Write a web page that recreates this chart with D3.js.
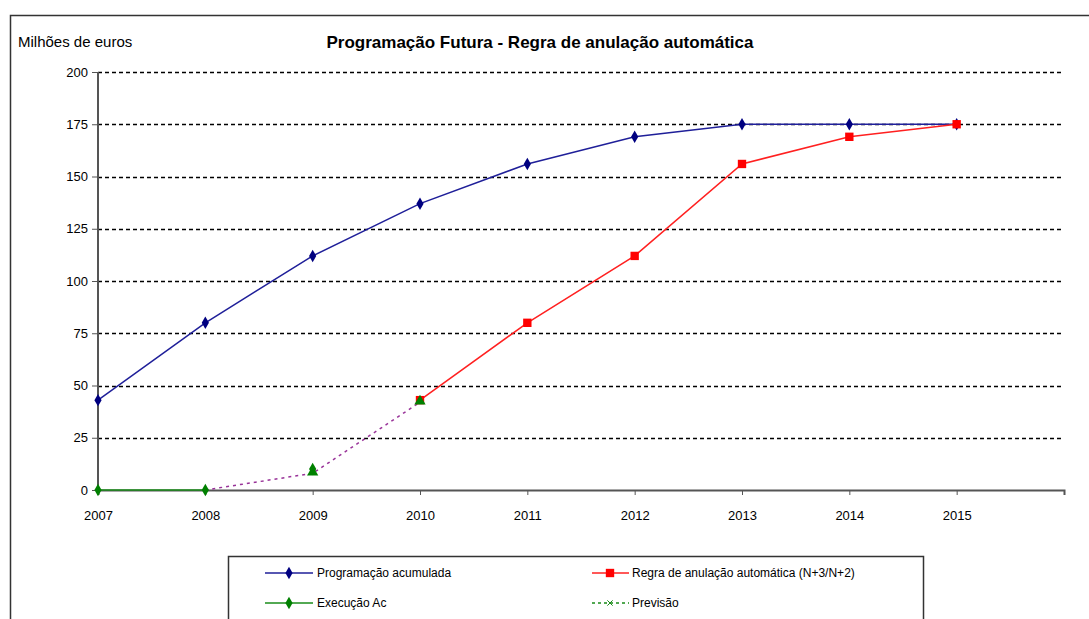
<!DOCTYPE html>
<html>
<head>
<meta charset="utf-8">
<script src="https://cdn.jsdelivr.net/npm/d3@7"></script>
<style>
  body { margin: 0; background: #fff; }
  svg { display: block; font-family: "Liberation Sans Narrow", "Arial Narrow", "Liberation Sans", sans-serif; }
  .tick text { font-size: 13px; fill: #000; }
</style>
</head>
<body>
<script>
//chart data
var years = [2007, 2008, 2009, 2010, 2011, 2012, 2013, 2014, 2015];
var programacao = [43, 80, 112, 137, 156, 169, 175, 175, 175];
var regraYears = [2010, 2011, 2012, 2013, 2014, 2015];
var regra = [43, 80, 112, 156, 169, 175];
var execYears = [2007, 2008];
var execucao = [0, 0];
var previsaoYears = [2008, 2009, 2010];
var previsao = [0, 8, 42];
var execMarkYears = [2009];
var execMark = [10];
var yTicks = [0, 25, 50, 75, 100, 125, 150, 175, 200];

var w = 1089, h = 619;

var svg = d3.select("body").append("svg")
  .attr("width", w)
  .attr("height", h);

//outer frame
svg.append("rect")
  .attr("x", 10.5).attr("y", 15.5)
  .attr("width", w + 20).attr("height", h)
  .style("fill", "none").style("stroke", "#333").style("stroke-width", 1.5);

var x = d3.scaleLinear().domain([2007, 2016]).range([98, 1064]);
var y = d3.scaleLinear().domain([0, 200]).range([490, 72]);

//gridlines
svg.selectAll(".grid")
  .data(yTicks.filter(function(d){ return d > 0; }))
  .enter().append("line")
  .attr("x1", x(2007)).attr("x2", 1062)
  .attr("y1", function(d){ return Math.round(y(d)) + 0.5; })
  .attr("y2", function(d){ return Math.round(y(d)) + 0.5; })
  .style("stroke", "#000").style("stroke-width", 1.3)
  .style("stroke-dasharray", "4,3");

//axes
var yAxis = svg.append("g")
  .attr("transform", "translate(" + x(2007) + ",0)")
  .call(d3.axisLeft(y).tickValues(yTicks).tickSize(6).tickPadding(4));
var xAxis = svg.append("g")
  .attr("transform", "translate(0," + y(0) + ")")
  .call(d3.axisBottom(x).tickValues(d3.range(2007, 2017)).tickSize(5).tickPadding(16)
    .tickFormat(function(d){ return d <= 2015 ? d : ""; }));
svg.selectAll(".domain").style("stroke", "#555").style("stroke-width", 2);
svg.selectAll(".tick line").style("stroke", "#555");
yAxis.selectAll(".domain").attr("d", "M0," + y(200) + "V" + y(0));

var line = d3.line()
  .x(function(d){ return x(d[0]); })
  .y(function(d){ return y(d[1]); });

function pairs(xs, ys){ return xs.map(function(v, i){ return [v, ys[i]]; }); }

var diamond = d3.symbol().type(d3.symbolDiamond).size(45);
var square = d3.symbol().type(d3.symbolSquare).size(70);
var triangle = d3.symbol().type(d3.symbolTriangle).size(55);

//previsao dashed line
svg.append("path")
  .datum(pairs(previsaoYears, previsao))
  .attr("d", line)
  .style("fill", "none").style("stroke", "#993399").style("stroke-width", 1.5)
  .style("stroke-dasharray", "3,4");

//execucao line
svg.append("path")
  .datum(pairs(execYears, execucao))
  .attr("d", line)
  .style("fill", "none").style("stroke", "#1a8c1a").style("stroke-width", 1.5);

//programacao line
svg.append("path")
  .datum(pairs(years, programacao))
  .attr("d", line)
  .style("fill", "none").style("stroke", "#1f1f99").style("stroke-width", 1.5);

//regra line
svg.append("path")
  .datum(pairs(regraYears, regra))
  .attr("d", line)
  .style("fill", "none").style("stroke", "#ff2020").style("stroke-width", 1.5);

//markers
svg.selectAll(".progMark")
  .data(pairs(years, programacao)).enter().append("path")
  .attr("transform", function(d){ return "translate(" + x(d[0]) + "," + y(d[1]) + ")"; })
  .attr("d", diamond).style("fill", "#000080");

svg.selectAll(".regraMark")
  .data(pairs(regraYears, regra)).enter().append("path")
  .attr("transform", function(d){ return "translate(" + x(d[0]) + "," + y(d[1]) + ")"; })
  .attr("d", square).style("fill", "#ff0000");

svg.selectAll(".prevMark")
  .data(pairs(previsaoYears, previsao).slice(1)).enter().append("path")
  .attr("transform", function(d){ return "translate(" + x(d[0]) + "," + (y(d[1]) - 1) + ")"; })
  .attr("d", triangle).style("fill", "#008000");

svg.selectAll(".execMark")
  .data(pairs(execYears, execucao).concat(pairs(execMarkYears, execMark))).enter().append("path")
  .attr("transform", function(d){ return "translate(" + x(d[0]) + "," + y(d[1]) + ")"; })
  .attr("d", diamond).style("fill", "#008000");

//titles
svg.append("text")
  .attr("x", 540).attr("y", 48)
  .attr("text-anchor", "middle")
  .style("font-size", "17px").style("font-weight", "bold")
  .text("Programação Futura - Regra de anulação automática");

svg.append("text")
  .attr("x", 18).attr("y", 47)
  .style("font-size", "15px")
  .text("Milhões de euros");

//legend
svg.append("rect")
  .attr("x", 228.5).attr("y", 556.5)
  .attr("width", 695).attr("height", 80)
  .style("fill", "none").style("stroke", "#333").style("stroke-width", 1.5);

var legendItems = [
  {label: "Programação acumulada", lx: 265, ly: 573, color: "#1f1f99", mark: "diamond", mcolor: "#000080"},
  {label: "Regra de anulação automática (N+3/N+2)", lx: 592, ly: 573, color: "#ff2020", mark: "square", mcolor: "#ff0000"},
  {label: "Execução Ac", lx: 265, ly: 603, color: "#1a8c1a", mark: "diamond", mcolor: "#008000"},
  {label: "Previsão", lx: 592, ly: 603, color: "#1a8c1a", mark: "x", mcolor: "#1a8c1a", dash: "3,3"}
];

var leg = svg.selectAll(".legend")
  .data(legendItems).enter().append("g")
  .attr("transform", function(d){ return "translate(" + d.lx + "," + d.ly + ")"; });

leg.append("line")
  .attr("x1", 0).attr("x2", function(d){ return d.lx < 400 ? 48 : 37; })
  .style("stroke", function(d){ return d.color; }).style("stroke-width", 1.5)
  .style("stroke-dasharray", function(d){ return d.dash || null; });

leg.append("path")
  .attr("transform", function(d){ return "translate(" + (d.lx < 400 ? 24 : 18) + ",0)"; })
  .attr("d", function(d){
    if (d.mark === "square") return square();
    if (d.mark === "x") return d3.symbol().type(d3.symbolX).size(20)();
    return diamond();
  })
  .style("fill", function(d){ return d.mark === "x" ? "none" : d.mcolor; })
  .style("stroke", function(d){ return d.mark === "x" ? d.mcolor : "none"; });

leg.append("text")
  .attr("x", function(d){ return d.lx < 400 ? 52 : 40; })
  .attr("y", 4)
  .style("font-size", "12px")
  .text(function(d){ return d.label; });
</script>
</body>
</html>
